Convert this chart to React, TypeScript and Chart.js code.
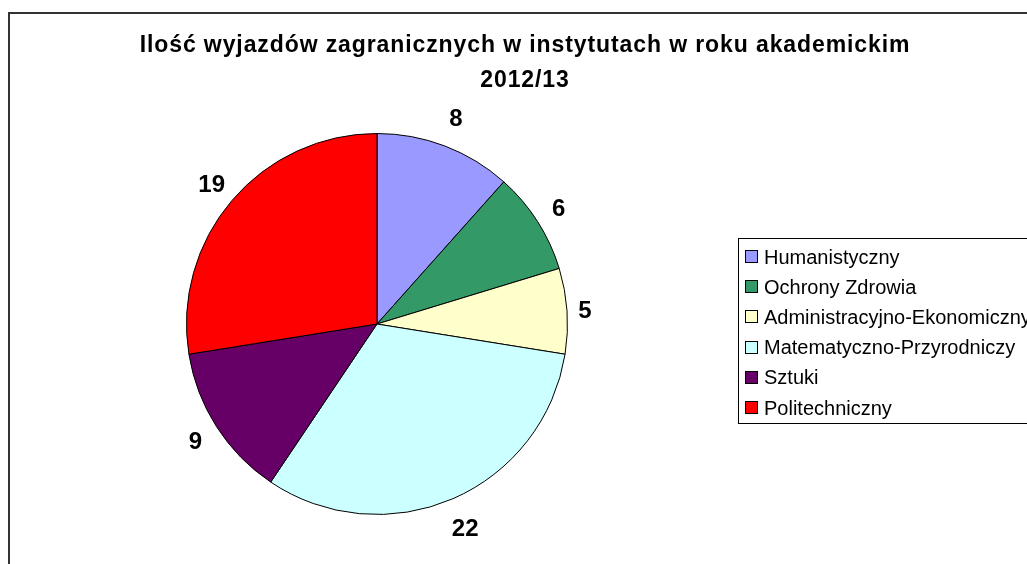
import React, { useEffect, useRef } from "react";
import { Chart, registerables } from "chart.js";

Chart.register(...registerables);

const titleLines = [
  "Ilość wyjazdów zagranicznych w instytutach w roku akademickim",
  "2012/13",
];
const categories = [
  "Humanistyczny",
  "Ochrony Zdrowia",
  "Administracyjno-Ekonomiczny",
  "Matematyczno-Przyrodniczy",
  "Sztuki",
  "Politechniczny",
];
const values = [8, 6, 5, 22, 9, 19];
const colors = ["#9999FF", "#339966", "#FFFFCC", "#CCFFFF", "#660066", "#FF0000"];

const FONT = '"Liberation Sans", Arial, Helvetica, sans-serif';

const decorPlugin = {
  id: "decor",
  afterDraw(chart: any) {
    const ctx = chart.ctx as CanvasRenderingContext2D;
    ctx.save();
    // outer frame
    ctx.strokeStyle = "#333333";
    ctx.lineWidth = 2;
    ctx.strokeRect(1, 5, 1040, 600);

    // title
    ctx.fillStyle = "#000000";
    ctx.font = `bold 23px ${FONT}`;
    (ctx as any).letterSpacing = "0.9px";
    ctx.textAlign = "center";
    ctx.textBaseline = "alphabetic";
    ctx.fillText(titleLines[0], 517, 44);
    ctx.fillText(titleLines[1], 517, 79);
    (ctx as any).letterSpacing = "0px";

    // value labels
    const meta = chart.getDatasetMeta(0);
    ctx.font = `bold 24px ${FONT}`;
    ctx.textBaseline = "middle";
    meta.data.forEach((arc: any, i: number) => {
      const mid = (arc.startAngle + arc.endAngle) / 2;
      const s = Math.sin(mid);
      const r = arc.outerRadius + 17 + 15 * Math.abs(s);
      const x = arc.x + Math.cos(mid) * r;
      const y = arc.y + s * r;
      ctx.fillText(String(values[i]), x, y + 2);
    });

    // legend
    const lx = 730;
    const ly = 230;
    ctx.strokeStyle = "#000000";
    ctx.lineWidth = 1;
    ctx.strokeRect(lx + 0.5, ly + 0.5, 400, 185);
    ctx.font = `20px ${FONT}`;
    ctx.textAlign = "left";
    ctx.textBaseline = "middle";
    categories.forEach((c, i) => {
      const cy = 249 + i * 30.2;
      ctx.fillStyle = colors[i];
      ctx.fillRect(737.5, Math.round(cy) - 6.5, 12, 12);
      ctx.strokeStyle = "#000000";
      ctx.strokeRect(737.5, Math.round(cy) - 6.5, 12, 12);
      ctx.fillStyle = "#000000";
      ctx.fillText(c, 756, cy + 1);
    });
    ctx.restore();
  },
};

export default function App() {
  const ref = useRef<HTMLCanvasElement | null>(null);
  useEffect(() => {
    if (!ref.current) return;
    const chart = new Chart(ref.current, {
      type: "pie",
      data: {
        labels: categories,
        datasets: [
          {
            data: values,
            backgroundColor: colors,
            borderColor: "#000000",
            borderWidth: 1,
            hoverOffset: 0,
          },
        ],
      },
      options: {
        responsive: false,
        animation: false,
        devicePixelRatio: 1,
        layout: { padding: { left: 178, top: 125, right: 459, bottom: 49 } },
        plugins: {
          legend: { display: false },
          title: { display: false },
          tooltip: { enabled: false },
        },
      },
      plugins: [decorPlugin],
    });
    return () => chart.destroy();
  }, []);
  return (
    <div style={{ position: "fixed", left: 8, top: 8, width: 1019, height: 556, overflow: "hidden" }}>
      <canvas ref={ref} width={1019} height={556} style={{ display: "block" }} />
    </div>
  );
}
